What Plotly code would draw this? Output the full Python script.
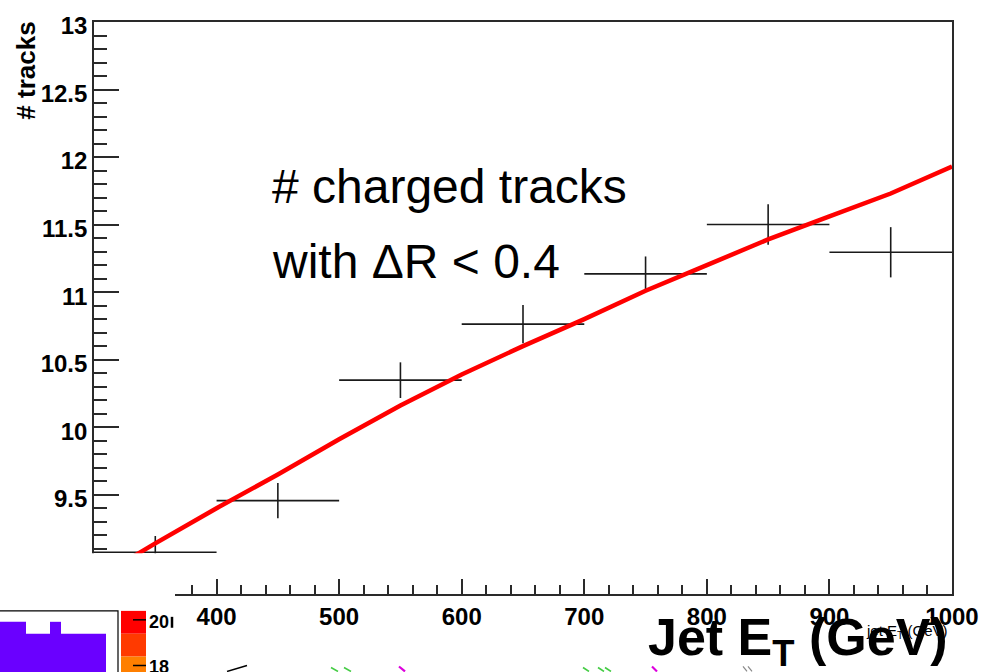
import plotly.graph_objects as go

# ---------------- data ----------------
bin_centers = [350, 450, 550, 650, 750, 850, 950]
n_tracks = [9.074, 9.456, 10.348, 10.763, 11.135, 11.501, 11.295]
n_tracks_err = [0.12, 0.13, 0.132, 0.141, 0.129, 0.15, 0.186]
bin_half_width = 50

fit_et = [300, 350, 400, 450, 500, 550, 600, 650, 700, 750, 800, 850, 900, 950, 1000]
fit_tracks = [8.87, 9.14, 9.40, 9.65, 9.91, 10.16, 10.39, 10.60, 10.80, 11.01, 11.20, 11.39, 11.56, 11.73, 11.93]

x_tickvals = [400, 500, 600, 700, 800, 900, 1000]
y_tickvals = [9.5, 10, 10.5, 11, 11.5, 12, 12.5, 13]
y_ticktext = ["9.5", "10", "10.5", "11", "11.5", "12", "12.5", "13"]

# ---------------- layout geometry (pixels) ----------------
W_PAGE, H_PAGE = 994, 672
L, R, T, B = 94, 952, 18, 594
PW, PH = R - L, B - T
X_RANGE = [300, 1000]
Y_MAX = 13.0
Y_MIN = Y_MAX - PH / 136.0


def px(x):
    return (x - L) / PW


def py(y):
    return (B - y) / PH


FONT = "Liberation Sans, Arial, Helvetica, sans-serif"
AX = "#2a2a2a"

fig = go.Figure()

fig.add_trace(go.Scatter(
    x=bin_centers, y=n_tracks, mode="markers",
    marker=dict(size=1, color="rgba(0,0,0,0)"),
    error_x=dict(type="constant", value=bin_half_width, width=0, thickness=1.6, color="#1a1a1a"),
    error_y=dict(type="data", array=n_tracks_err, width=0, thickness=1.6, color="#1a1a1a"),
    showlegend=False, hoverinfo="skip",
))

fig.add_trace(go.Scatter(
    x=fit_et, y=fit_tracks, mode="lines", line=dict(color="#ff0000", width=4.5),
    showlegend=False, hoverinfo="skip",
))

shapes = []
# white patch covering the lower-left corner of the frame
shapes.append(dict(type="rect", xref="paper", yref="paper", x0=px(-5), x1=px(175), y0=py(553), y1=py(680),
                   fillcolor="white", line=dict(width=0), layer="above"))
# inset fragment: framed box with violet histogram
shapes.append(dict(type="rect", xref="paper", yref="paper", x0=px(-5), x1=px(118), y0=py(611), y1=py(680),
                   fillcolor="white", line=dict(color="black", width=1.2), layer="above"))
violet = "#6a00ff"
shapes.append(dict(type="rect", xref="paper", yref="paper", x0=px(0), x1=px(26), y0=py(622), y1=py(680),
                   fillcolor=violet, line=dict(width=0), layer="above"))
shapes.append(dict(type="rect", xref="paper", yref="paper", x0=px(26), x1=px(50), y0=py(634), y1=py(680),
                   fillcolor=violet, line=dict(width=0), layer="above"))
shapes.append(dict(type="rect", xref="paper", yref="paper", x0=px(50), x1=px(61), y0=py(622), y1=py(680),
                   fillcolor=violet, line=dict(width=0), layer="above"))
shapes.append(dict(type="rect", xref="paper", yref="paper", x0=px(61), x1=px(106), y0=py(634), y1=py(680),
                   fillcolor=violet, line=dict(width=0), layer="above"))
# colour scale fragment
for (y0, y1, c) in [(611, 634, "#ff0000"), (634, 657, "#ff3a00"), (657, 680, "#ff7f00")]:
    shapes.append(dict(type="rect", xref="paper", yref="paper", x0=px(121), x1=px(146), y0=py(y0), y1=py(y1),
                       fillcolor=c, line=dict(width=0), layer="above"))
for yy in [620, 666]:
    shapes.append(dict(type="line", xref="paper", yref="paper", x0=px(133), x1=px(146), y0=py(yy), y1=py(yy),
                       line=dict(color="black", width=1.5), layer="above"))
shapes.append(dict(type="line", xref="paper", yref="paper", x0=px(172), x1=px(172), y0=py(617), y1=py(628),
                   line=dict(color="black", width=2.5), layer="above"))
# small arrow fragments at the bottom
frags = [
    (227, 672, 247, 666, "black", 1.5),
    (331, 668, 338, 672, "#44cc44", 1.6), (344, 668, 351, 672, "#44cc44", 1.6),
    (399, 667, 405, 672, "#dd00dd", 2.2),
    (583, 668, 589, 672, "#44cc44", 1.6), (598, 668, 604, 672, "#44cc44", 1.6), (605, 668, 611, 672, "#44cc44", 1.6),
    (652, 667, 657, 672, "#dd00dd", 2.2),
    (743, 667, 747, 672, "#888888", 1.2), (748, 667, 752, 672, "#888888", 1.2),
]
for (x0, y0, x1, y1, c, w) in frags:
    shapes.append(dict(type="line", xref="paper", yref="paper", x0=px(x0), x1=px(x1), y0=py(y0), y1=py(y1),
                       line=dict(color=c, width=w), layer="above"))

annotations = [
    dict(text="# tracks", textangle=-90, xref="paper", yref="paper", x=px(26), y=py(67),
         xanchor="center", yanchor="middle", showarrow=False,
         font=dict(family=FONT, size=26, color="black", weight="bold")),
    dict(text="# charged tracks", xref="paper", yref="paper", x=px(270), y=py(184),
         xanchor="left", yanchor="middle", showarrow=False,
         font=dict(family=FONT, size=48, color="black")),
    dict(text="with ΔR < 0.4", xref="paper", yref="paper", x=px(270), y=py(259),
         xanchor="left", yanchor="middle", showarrow=False,
         font=dict(family=FONT, size=48, color="black")),
    dict(text="20", xref="paper", yref="paper", x=px(147), y=py(622),
         xanchor="left", yanchor="middle", showarrow=False,
         font=dict(family=FONT, size=18, color="black", weight="bold")),
    dict(text="18", xref="paper", yref="paper", x=px(147), y=py(668),
         xanchor="left", yanchor="middle", showarrow=False,
         font=dict(family=FONT, size=18, color="black", weight="bold")),
    dict(text="jet E<sub>T</sub> (GeV)", xref="paper", yref="paper", x=px(950), y=py(632),
         xanchor="right", yanchor="middle", showarrow=False,
         font=dict(family=FONT, size=15, color="black")),
    dict(text="Jet E<sub>T</sub> (GeV)", xref="paper", yref="paper", x=px(950), y=py(641),
         xanchor="right", yanchor="middle", showarrow=False,
         font=dict(family=FONT, size=52, color="black", weight="bold")),
]

fig.update_layout(
    width=W_PAGE, height=H_PAGE,
    margin=dict(l=L, r=W_PAGE - R, t=T, b=H_PAGE - B, pad=0),
    paper_bgcolor="white", plot_bgcolor="white",
    showlegend=False,
    shapes=shapes, annotations=annotations,
    xaxis=dict(
        range=X_RANGE, tickmode="array", tickvals=x_tickvals, ticktext=[str(v) for v in x_tickvals],
        ticks="inside", ticklen=15, tickwidth=1.5, tickcolor=AX,
        minor=dict(dtick=20, tick0=300, ticks="inside", ticklen=9, tickwidth=1.5, tickcolor=AX, showgrid=False),
        showline=True, linecolor=AX, linewidth=1.6, mirror=True,
        showgrid=False, zeroline=False,
        tickfont=dict(family=FONT, size=24, color="black", weight="bold"),
    ),
    yaxis=dict(
        range=[Y_MIN, Y_MAX], tickmode="array", tickvals=y_tickvals, ticktext=y_ticktext,
        ticks="inside", ticklen=25, tickwidth=1.5, tickcolor=AX,
        minor=dict(dtick=0.1, tick0=9.0, ticks="inside", ticklen=13, tickwidth=1.5, tickcolor=AX, showgrid=False),
        showline=True, linecolor=AX, linewidth=1.6, mirror=True,
        showgrid=False, zeroline=False, ticklabelshift=4,
        tickfont=dict(family=FONT, size=24, color="black", weight="bold"),
    ),
)

fig.write_html("out.html")
